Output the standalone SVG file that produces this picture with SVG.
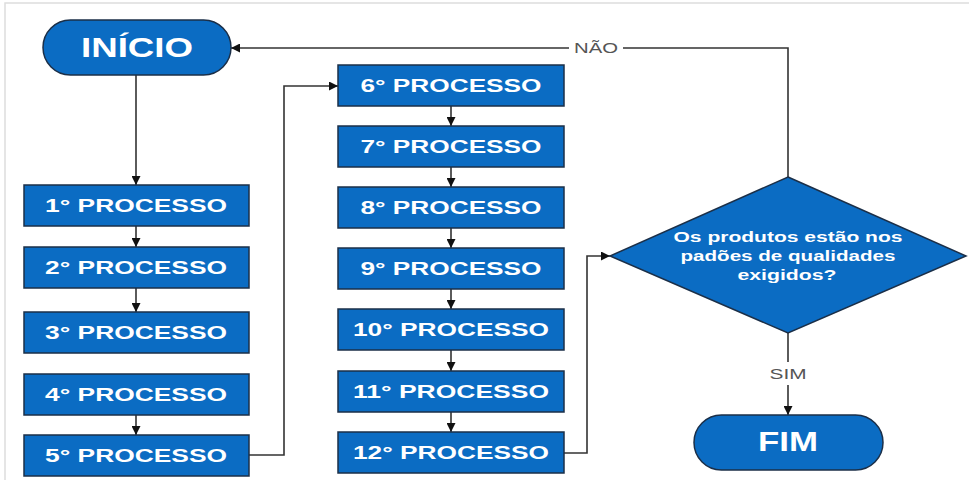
<svg xmlns="http://www.w3.org/2000/svg" width="969" height="480" viewBox="0 0 969 480">
  <style>
    .shape { fill: #0b6cc3; stroke: #1b2f48; stroke-width: 1.5; }
    .lbl { fill: #ffffff; font-family: "Liberation Sans", Arial, sans-serif; font-weight: bold; text-anchor: middle; }
    .box { font-size: 18px; }
    .term { font-size: 27px; }
    .dec { font-size: 14px; }
    .edge { fill: none; stroke: #333333; stroke-width: 1.6; }
    .elbl { fill: #555555; font-family: "Liberation Sans", Arial, sans-serif; font-size: 15px; text-anchor: middle; }
    .frame { stroke: #dddddd; stroke-width: 1.5; fill: none; }
  </style>
  <defs>
    <marker id="arrow" viewBox="0 0 10 10" refX="10" refY="5" markerWidth="9" markerHeight="9" markerUnits="userSpaceOnUse" orient="auto">
      <path d="M0,0 L10,5 L0,10 Z" fill="#111111"/>
    </marker>
  </defs>

  <rect width="969" height="480" fill="#ffffff"/>
  <path class="frame" d="M5,480 V3 H969"/>

  <!-- connectors -->
  <g id="connectors">
    <path class="edge" d="M136,75 V185" marker-end="url(#arrow)"/>
    <path class="edge" d="M136,226 V247" marker-end="url(#arrow)"/>
    <path class="edge" d="M136,288 V312" marker-end="url(#arrow)"/>
    <path class="edge" d="M136,415 V435" marker-end="url(#arrow)"/>
    <path class="edge" d="M249,455 H284 V86 H338" marker-end="url(#arrow)"/>
    <path class="edge" d="M451,106 V126" marker-end="url(#arrow)"/>
    <path class="edge" d="M451,167 V187" marker-end="url(#arrow)"/>
    <path class="edge" d="M451,228 V248" marker-end="url(#arrow)"/>
    <path class="edge" d="M451,289 V309" marker-end="url(#arrow)"/>
    <path class="edge" d="M451,350 V371" marker-end="url(#arrow)"/>
    <path class="edge" d="M451,412 V432" marker-end="url(#arrow)"/>
    <path class="edge" d="M564,453 H587 V256 H610" marker-end="url(#arrow)"/>
    <path class="edge" d="M788,177 V48 H623"/>
    <path class="edge" d="M569,48 H231" marker-end="url(#arrow)"/>
    <text class="elbl" x="596" y="53" textLength="44" lengthAdjust="spacingAndGlyphs">NÃO</text>
    <path class="edge" d="M788,333 V362"/>
    <path class="edge" d="M788,385 V415" marker-end="url(#arrow)"/>
    <text class="elbl" x="788" y="379" textLength="37" lengthAdjust="spacingAndGlyphs">SIM</text>
  </g>

  <g id="inicio">
    <rect class="shape" x="43" y="20" width="188" height="55" rx="27.5"/>
    <text class="lbl term" x="137" y="57" textLength="112" lengthAdjust="spacingAndGlyphs">INÍCIO</text>
  </g>

  <g id="p1"><rect class="shape" x="24" y="185" width="225" height="41"/><text class="lbl box" x="136" y="212" textLength="182" lengthAdjust="spacingAndGlyphs">1° PROCESSO</text></g>
  <g id="p2"><rect class="shape" x="24" y="247" width="225" height="41"/><text class="lbl box" x="136" y="274" textLength="182" lengthAdjust="spacingAndGlyphs">2° PROCESSO</text></g>
  <g id="p3"><rect class="shape" x="24" y="312" width="225" height="41"/><text class="lbl box" x="136" y="339" textLength="182" lengthAdjust="spacingAndGlyphs">3° PROCESSO</text></g>
  <g id="p4"><rect class="shape" x="24" y="374" width="225" height="41"/><text class="lbl box" x="136" y="401" textLength="182" lengthAdjust="spacingAndGlyphs">4° PROCESSO</text></g>
  <g id="p5"><rect class="shape" x="24" y="435" width="225" height="41"/><text class="lbl box" x="136" y="462" textLength="182" lengthAdjust="spacingAndGlyphs">5° PROCESSO</text></g>

  <g id="p6"><rect class="shape" x="338" y="65" width="226" height="41"/><text class="lbl box" x="451" y="92" textLength="181" lengthAdjust="spacingAndGlyphs">6° PROCESSO</text></g>
  <g id="p7"><rect class="shape" x="338" y="126" width="226" height="41"/><text class="lbl box" x="451" y="153" textLength="181" lengthAdjust="spacingAndGlyphs">7° PROCESSO</text></g>
  <g id="p8"><rect class="shape" x="338" y="187" width="226" height="41"/><text class="lbl box" x="451" y="214" textLength="181" lengthAdjust="spacingAndGlyphs">8° PROCESSO</text></g>
  <g id="p9"><rect class="shape" x="338" y="248" width="226" height="41"/><text class="lbl box" x="451" y="275" textLength="181" lengthAdjust="spacingAndGlyphs">9° PROCESSO</text></g>
  <g id="p10"><rect class="shape" x="338" y="309" width="226" height="41"/><text class="lbl box" x="451" y="336" textLength="196" lengthAdjust="spacingAndGlyphs">10° PROCESSO</text></g>
  <g id="p11"><rect class="shape" x="338" y="371" width="226" height="41"/><text class="lbl box" x="451" y="398" textLength="196" lengthAdjust="spacingAndGlyphs">11° PROCESSO</text></g>
  <g id="p12"><rect class="shape" x="338" y="432" width="226" height="41"/><text class="lbl box" x="451" y="459" textLength="196" lengthAdjust="spacingAndGlyphs">12° PROCESSO</text></g>

  <g id="decisao">
    <polygon class="shape" points="788,177 966,256 788,333 610,256"/>
    <text class="lbl dec" x="788" y="242" textLength="229" lengthAdjust="spacingAndGlyphs">Os produtos estão nos</text>
    <text class="lbl dec" x="788" y="261" textLength="215" lengthAdjust="spacingAndGlyphs">padões de qualidades</text>
    <text class="lbl dec" x="787" y="280" textLength="99" lengthAdjust="spacingAndGlyphs">exigidos?</text>
  </g>

  <g id="fim">
    <rect class="shape" x="694" y="415" width="189" height="55" rx="27.5"/>
    <text class="lbl term" x="788" y="451" textLength="60" lengthAdjust="spacingAndGlyphs">FIM</text>
  </g>
</svg>
